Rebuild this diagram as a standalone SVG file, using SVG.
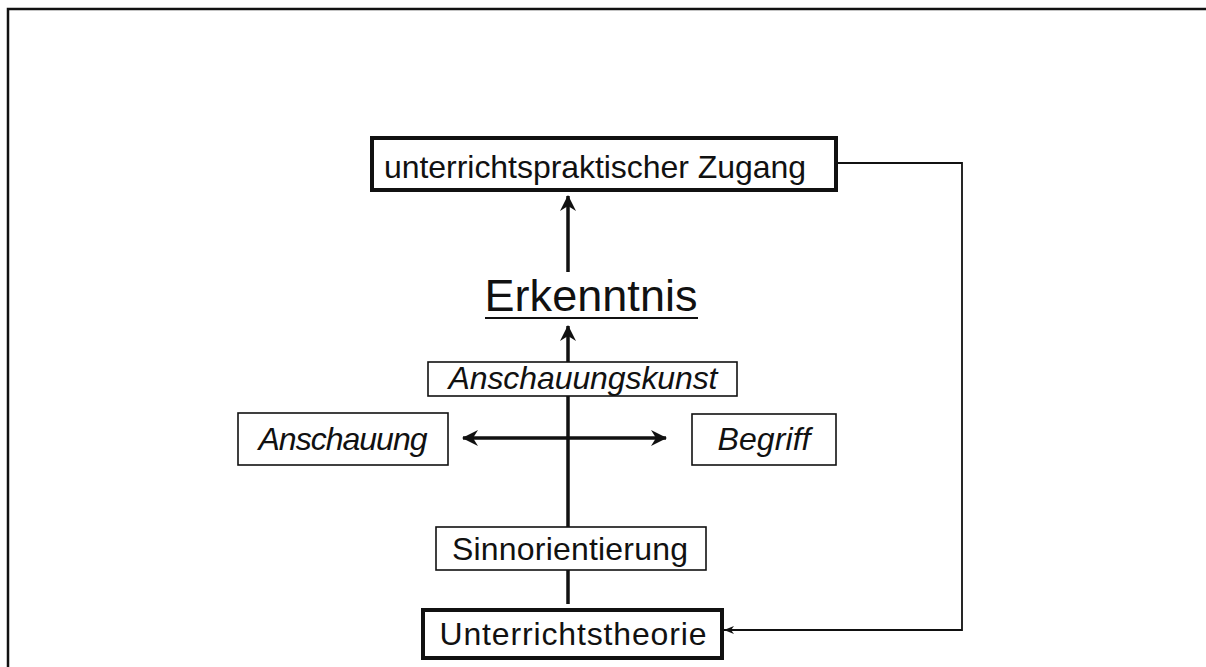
<svg xmlns="http://www.w3.org/2000/svg" width="1206" height="667" viewBox="0 0 1206 667">
<defs>
<style>
.box{fill:#fff;stroke:#111;stroke-width:1.6}
.tbox{fill:#fff;stroke:#111;stroke-width:4}
.t{font-family:"Liberation Sans",Arial,sans-serif;font-size:32px;fill:#111;text-anchor:middle}
.i{font-style:italic}
.ln{stroke:#111;stroke-width:3.5;fill:none}
.fb{stroke:#111;stroke-width:1.8;fill:none}
</style>
<marker id="ah" viewBox="0 0 16 16" refX="15" refY="8" markerWidth="16" markerHeight="16" markerUnits="userSpaceOnUse" orient="auto-start-reverse">
<path d="M0,0 L16,8 L0,16 L5,8 Z" fill="#111"/>
</marker>
<marker id="ahs" viewBox="0 0 10 8" refX="10" refY="4" markerWidth="10" markerHeight="8" markerUnits="userSpaceOnUse" orient="auto">
<path d="M0,0 L10,4 L0,8 L3,4 Z" fill="#111"/>
</marker>
</defs>
<rect width="1206" height="667" fill="#fff"/>
<path d="M8,667 V9 H1206" fill="none" stroke="#111" stroke-width="2.5"/>
<g id="connectors">
<line class="ln" x1="568" y1="272" x2="568" y2="196" marker-end="url(#ah)"/>
<line class="ln" x1="568" y1="362" x2="568" y2="326" marker-end="url(#ah)"/>
<line class="ln" x1="568" y1="396" x2="568" y2="527"/>
<line class="ln" x1="568" y1="570" x2="568" y2="604"/>
<line class="ln" x1="463" y1="438" x2="666" y2="438" marker-start="url(#ah)" marker-end="url(#ah)"/>
<path class="fb" d="M836,163 H962 V630 H724" marker-end="url(#ahs)"/>
</g>
<g id="n-zugang"><rect class="tbox" x="372" y="138" width="464" height="52"/><text class="t" x="595" y="178" textLength="422">unterrichtspraktischer Zugang</text></g>
<g id="n-erkenntnis"><text class="t" x="591" y="311" style="font-size:45px" textLength="213">Erkenntnis</text><line x1="485" y1="318" x2="698" y2="318" stroke="#111" stroke-width="2"/></g>
<g id="n-anschauungskunst"><rect class="box" x="428" y="362" width="309" height="34"/><text class="t i" x="583" y="389" textLength="269">Anschauungskunst</text></g>
<g id="n-anschauung"><rect class="box" x="238" y="413" width="210" height="52"/><text class="t i" x="343" y="450" textLength="169">Anschauung</text></g>
<g id="n-begriff"><rect class="box" x="692" y="414" width="144" height="51"/><text class="t i" x="764" y="450" textLength="93">Begriff</text></g>
<g id="n-sinn"><rect class="box" x="436" y="527" width="270" height="43"/><text class="t" x="570" y="560" textLength="236">Sinnorientierung</text></g>
<g id="n-theorie"><rect class="tbox" x="423" y="610" width="299" height="48"/><text class="t" x="573" y="645" textLength="267">Unterrichtstheorie</text></g>
</svg>
